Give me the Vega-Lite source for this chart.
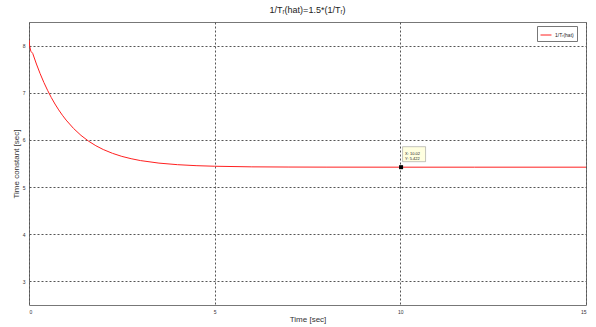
{
  "$schema": "https://vega.github.io/schema/vega-lite/v6.json",
  "width": 557,
  "height": 283,
  "autosize": "none",
  "padding": {"left": 29, "top": 22, "right": 10, "bottom": 22},
  "background": "white",
  "title": {
    "text": "1/Tᵣ(hat)=1.5*(1/Tᵣ)",
    "font": "Liberation Sans",
    "fontSize": 9,
    "fontWeight": "normal",
    "color": "#222222",
    "anchor": "middle",
    "offset": 7
  },
  "config": {
    "view": {"stroke": "#777777", "strokeWidth": 1},
    "axis": {
      "labelFont": "Liberation Sans",
      "labelFontSize": 5,
      "labelColor": "#333333",
      "titleFont": "Liberation Sans",
      "titleFontWeight": "normal",
      "titleColor": "#333333",
      "titleFontSize": 8,
      "grid": true,
      "gridColor": "#555555",
      "gridDash": [2, 2],
      "gridWidth": 1,
      "domain": false,
      "ticks": false,
      "labelPadding": 4
    }
  },
  "datasets": {
    "curve": [
      {"t": 0.0, "y": 8.12, "series": "1/Tᵣ(hat)"},
      {"t": 0.02, "y": 7.98, "series": "1/Tᵣ(hat)"},
      {"t": 0.05, "y": 7.88, "series": "1/Tᵣ(hat)"},
      {"t": 0.1, "y": 7.834, "series": "1/Tᵣ(hat)"},
      {"t": 0.2, "y": 7.609, "series": "1/Tᵣ(hat)"},
      {"t": 0.3, "y": 7.405, "series": "1/Tᵣ(hat)"},
      {"t": 0.4, "y": 7.219, "series": "1/Tᵣ(hat)"},
      {"t": 0.5, "y": 7.052, "series": "1/Tᵣ(hat)"},
      {"t": 0.6, "y": 6.899, "series": "1/Tᵣ(hat)"},
      {"t": 0.7, "y": 6.761, "series": "1/Tᵣ(hat)"},
      {"t": 0.8, "y": 6.636, "series": "1/Tᵣ(hat)"},
      {"t": 0.9, "y": 6.523, "series": "1/Tᵣ(hat)"},
      {"t": 1.0, "y": 6.42, "series": "1/Tᵣ(hat)"},
      {"t": 1.2, "y": 6.243, "series": "1/Tᵣ(hat)"},
      {"t": 1.4, "y": 6.096, "series": "1/Tᵣ(hat)"},
      {"t": 1.6, "y": 5.976, "series": "1/Tᵣ(hat)"},
      {"t": 1.8, "y": 5.877, "series": "1/Tᵣ(hat)"},
      {"t": 2.0, "y": 5.796, "series": "1/Tᵣ(hat)"},
      {"t": 2.25, "y": 5.715, "series": "1/Tᵣ(hat)"},
      {"t": 2.5, "y": 5.651, "series": "1/Tᵣ(hat)"},
      {"t": 2.75, "y": 5.602, "series": "1/Tᵣ(hat)"},
      {"t": 3.0, "y": 5.562, "series": "1/Tᵣ(hat)"},
      {"t": 3.5, "y": 5.508, "series": "1/Tᵣ(hat)"},
      {"t": 4.0, "y": 5.475, "series": "1/Tᵣ(hat)"},
      {"t": 4.5, "y": 5.454, "series": "1/Tᵣ(hat)"},
      {"t": 5.0, "y": 5.442, "series": "1/Tᵣ(hat)"},
      {"t": 6.0, "y": 5.429, "series": "1/Tᵣ(hat)"},
      {"t": 7.0, "y": 5.425, "series": "1/Tᵣ(hat)"},
      {"t": 8.0, "y": 5.423, "series": "1/Tᵣ(hat)"},
      {"t": 10.0, "y": 5.422, "series": "1/Tᵣ(hat)"},
      {"t": 12.0, "y": 5.422, "series": "1/Tᵣ(hat)"},
      {"t": 15.0, "y": 5.422, "series": "1/Tᵣ(hat)"}
    ],
    "tip": [
      {"t": 10.02, "y": 5.422, "label": "X: 10.02\nY: 5.422"}
    ]
  },
  "layer": [
    {
      "data": {"name": "curve"},
      "mark": {"type": "line", "strokeWidth": 1, "clip": true},
      "encoding": {
        "x": {
          "field": "t", "type": "quantitative",
          "scale": {"domain": [0, 15], "nice": false},
          "axis": {"values": [0, 5, 10, 15], "title": "Time [sec]", "titlePadding": 1}
        },
        "y": {
          "field": "y", "type": "quantitative",
          "scale": {"domain": [2.5, 8.5], "nice": false, "zero": false},
          "axis": {"values": [3, 4, 5, 6, 7, 8], "title": "Time constant [sec]", "titlePadding": 2}
        },
        "color": {
          "field": "series", "type": "nominal",
          "scale": {"range": ["#ff2020"]},
          "legend": {
            "title": null,
            "orient": "none",
            "legendX": 508,
            "legendY": 4,
            "symbolType": "stroke",
            "symbolSize": 120,
            "symbolStrokeWidth": 1,
            "labelFont": "Liberation Sans",
            "labelFontSize": 5,
            "labelColor": "#222222",
            "strokeColor": "#777777",
            "fillColor": "white",
            "padding": 3,
            "labelOffset": 3
          }
        }
      }
    },
    {
      "data": {"name": "tip"},
      "mark": {"type": "rect", "width": 23, "height": 15, "xOffset": 13, "yOffset": -13, "fill": "#ffffe0", "stroke": "#888888", "strokeWidth": 0.5},
      "encoding": {
        "x": {"field": "t", "type": "quantitative"},
        "y": {"field": "y", "type": "quantitative"}
      }
    },
    {
      "data": {"name": "tip"},
      "mark": {"type": "text", "lineBreak": "\n", "align": "left", "baseline": "middle", "dx": 4, "dy": -13, "fontSize": 4, "font": "Liberation Sans", "color": "#222222", "lineHeight": 5},
      "encoding": {
        "x": {"field": "t", "type": "quantitative"},
        "y": {"field": "y", "type": "quantitative"},
        "text": {"field": "label", "type": "nominal"}
      }
    },
    {
      "data": {"name": "tip"},
      "mark": {"type": "point", "shape": "square", "filled": true, "color": "black", "size": 16, "opacity": 1},
      "encoding": {
        "x": {"field": "t", "type": "quantitative"},
        "y": {"field": "y", "type": "quantitative"}
      }
    }
  ]
}
